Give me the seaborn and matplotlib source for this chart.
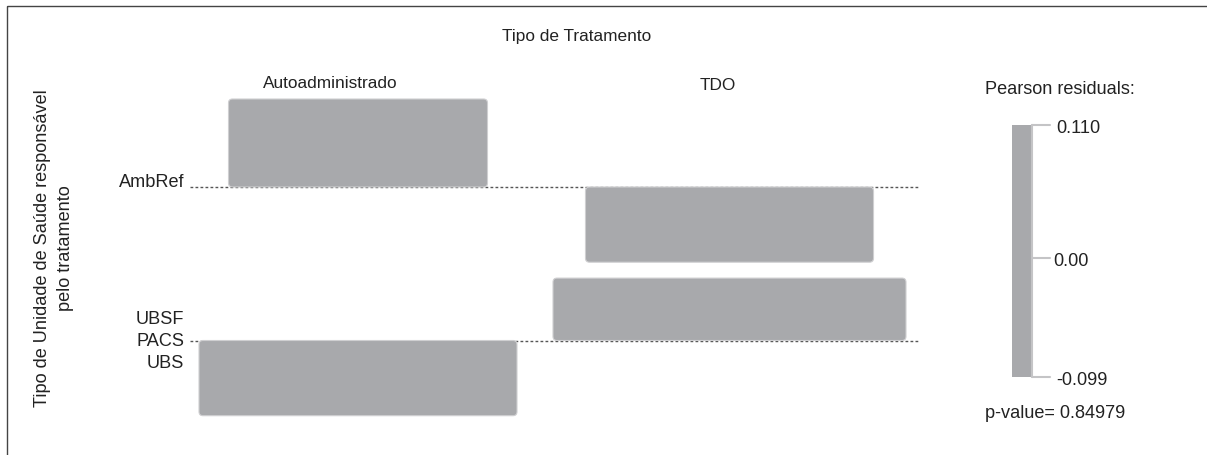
import numpy as np
import seaborn as sns
import matplotlib
matplotlib.use("Agg")
import matplotlib.pyplot as plt
from matplotlib.patches import FancyBboxPatch, Rectangle

# ---------------- data ----------------
rows = ["AmbRef", "UBSF", "PACS", "UBS"]
cols = ["Autoadministrado", "TDO"]
resid_auto = [0.110, 0.0, 0.0, -0.094]
resid_tdo = [-0.094, 0.0, 0.0, 0.078]
expected_auto = [167.7, 0.0, 0.0, 252.8]
expected_tdo = [207.4, 0.0, 0.0, 311.5]
legend_ticks = [0.110, 0.00, -0.099]
legend_labels = ["0.110", "0.00", "-0.099"]
p_value = 0.84979
title_top = "Tipo de Tratamento"
ylabel = "Tipo de Unidade de Saúde responsável\npelo tratamento"

# ---------------- style ----------------
sns.set_theme(style="white")
plt.rcParams["font.family"] = ["Liberation Sans", "DejaVu Sans"]
FS_TOP = 12.4
FS = 13.1
TXT = "#222222"
BOX = "#a8a9ac"
EDGE = "#cfcfd1"

fig = plt.figure(figsize=(12.07, 4.56), dpi=100)
ax = fig.add_axes([0, 0, 1, 1])
ax.set_xlim(0, 1207)
ax.set_ylim(456, 0)
ax.axis("off")

# layout (pixel units)
col_centers = [358, 729.5]
row_base = [188, 341.5, 341.5, 341.5]
row_label_y = [182.5, 319.5, 342, 364]
h_scale = 800.0   # px per residual unit
w_scale = 20.0    # px per sqrt(expected)

# frame
ax.add_patch(Rectangle((6.5, 7), 1210, 460, fill=False, edgecolor="#444444", lw=1.0))

# baselines
for yb in sorted(set(row_base)):
    ax.plot([190, 918], [yb, yb], color="#555555", lw=1.0, linestyle=(0, (2, 1.6)), zorder=1)

# boxes
for ci, (res, exp) in enumerate([(resid_auto, expected_auto), (resid_tdo, expected_tdo)]):
    for ri, (r, e) in enumerate(zip(res, exp)):
        if e <= 0 or r == 0:
            continue
        w = np.sqrt(e) * w_scale
        h = r * h_scale
        x0 = col_centers[ci] - w / 2
        ytop = row_base[ri] - max(h, 0)
        p = FancyBboxPatch((x0, ytop), w, abs(h),
                           boxstyle="round,pad=0,rounding_size=4",
                           facecolor=BOX, edgecolor=EDGE, lw=0.8, zorder=2)
        ax.add_patch(p)

# texts
ax.text(577, 37, title_top, ha="center", va="center", fontsize=FS_TOP, color=TXT)
ax.text(330.5, 83, cols[0], ha="center", va="center", fontsize=FS_TOP, color=TXT)
ax.text(718, 85, cols[1], ha="center", va="center", fontsize=FS_TOP, color=TXT)
for name, yl in zip(rows, row_label_y):
    ax.text(184.5, yl, name, ha="right", va="center", fontsize=FS, color=TXT)
ax.text(54, 248, ylabel, ha="center", va="center", rotation=90, fontsize=FS,
        color=TXT, linespacing=1.4, multialignment="center")

# legend
ax.text(985, 90, "Pearson residuals:", ha="left", va="center", fontsize=FS, color=TXT)
lg_top, lg_bot = 126, 378
vmax, vmin = max(legend_ticks), min(legend_ticks)
def ly(v):
    return lg_top + (vmax - v) / (vmax - vmin) * (lg_bot - lg_top)
ax.add_patch(Rectangle((1012, lg_top), 19.5, lg_bot - lg_top, facecolor=BOX, edgecolor="none"))
ax.plot([1032, 1032], [lg_top, lg_bot], color="#c4c4c6", lw=1.5)
label_x = [1056, 1053, 1056]
for v, lab, lx in zip(legend_ticks, legend_labels, label_x):
    yy = ly(v)
    ax.plot([1032, 1050], [yy, yy], color="#c4c4c6", lw=1.5)
    ax.text(lx, yy + 3, lab, ha="left", va="center", fontsize=FS, color=TXT)
ax.text(985, 414, f"p-value= {p_value:.5f}", ha="left", va="center", fontsize=FS, color=TXT)

fig.savefig("out.png", dpi=100)
